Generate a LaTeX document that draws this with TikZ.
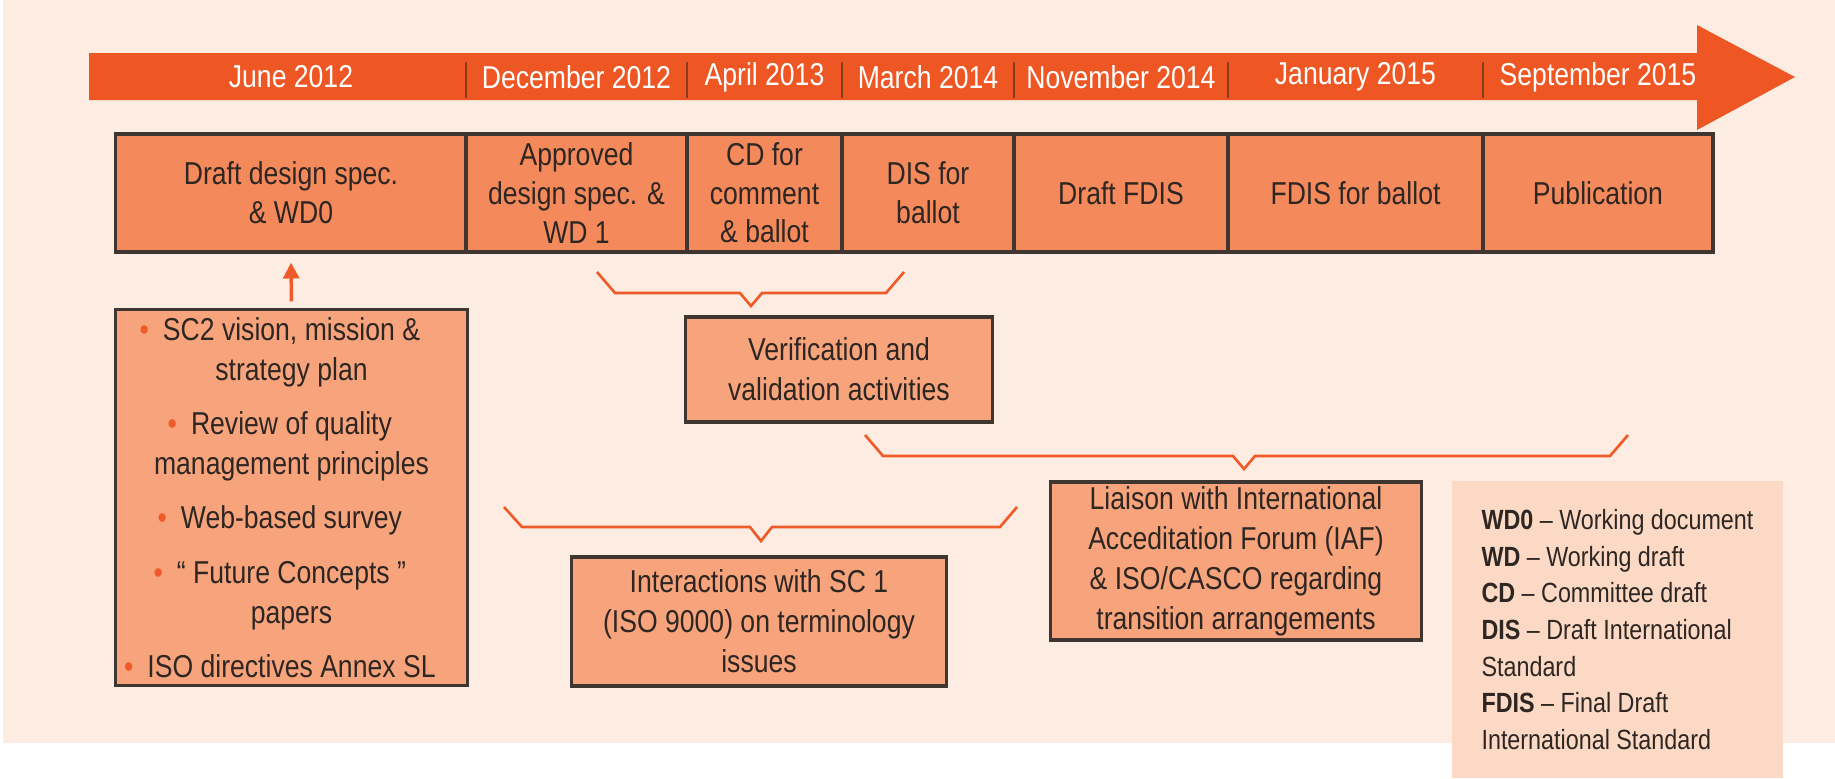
\documentclass[tikz,border=0pt]{standalone}
\usepackage{fontspec}
\setmainfont{Liberation Sans}[FakeStretch=0.84]
\usepackage{tikz}
\usetikzlibrary{positioning,arrows.meta}

\definecolor{bgpeach}{HTML}{FDECE1}
\definecolor{bandred}{HTML}{EE5724}
\definecolor{stagefill}{HTML}{F48A5B}
\definecolor{notefill}{HTML}{F7A47C}
\definecolor{legendfill}{HTML}{FCD9C5}
\definecolor{boxline}{HTML}{3F3632}
\definecolor{bracered}{HTML}{F05A28}
\definecolor{inktext}{HTML}{2E2622}
\definecolor{divline}{HTML}{8A3A1E}

\newcommand{\dotmark}{\llap{{\color{bracered}•}\hspace{4pt}}}

\tikzset{
  stage/.style={draw=boxline, line width=0.9pt, fill=stagefill, text=inktext, align=center,
    minimum height=1.18cm, inner sep=0pt, font=\fontsize{9}{11}\selectfont},
  month/.style={text=white, inner sep=0pt, font=\fontsize{9}{11}\selectfont},
  note/.style={draw=boxline, line width=0.9pt, fill=notefill, text=inktext, align=center,
    inner sep=0pt, font=\fontsize{9}{11.4}\selectfont},
  bracket/.style={draw=bracered, line width=0.75pt, line join=miter},
}

\begin{document}
\begin{tikzpicture}[x=0.01cm, y=-0.01cm]
  \useasboundingbox (0,0) rectangle (1835,778);
  \fill[bgpeach] (3,0) rectangle (1835,743);

  % time band
  \fill[bandred] (89,53) -- (1697,53) -- (1697,25) -- (1795,77) -- (1697,130) -- (1697,100) -- (89,100) -- cycle;
  \foreach \x in {466,687,842,1014,1228,1483}
    \draw[divline, line width=0.6pt] (\x,62) -- (\x,98);
  \node[month] (jun12) at (291,77) {June 2012};
  \node[month] (dec12) at (576.5,77) {December 2012};
  \node[month] (apr13) at (764.5,77) {April 2013};
  \node[month] (mar14) at (928,77) {March 2014};
  \node[month] (nov14) at (1121,77) {November 2014};
  \node[month] (jan15) at (1355.5,77) {January 2015};
  \node[month] (sep15) at (1598,77) {September 2015};

  % stages
  \node[stage, minimum width=3.50cm] (draft) at (291,193) {Draft design spec.\\ \& WD0};
  \node[stage, minimum width=2.21cm] (approved) at (576.5,193) {Approved\\ design spec. \&\\ WD 1};
  \node[stage, minimum width=1.55cm] (cd) at (764.5,193) {CD for\\ comment\\ \& ballot};
  \node[stage, minimum width=1.72cm] (dis) at (928,193) {DIS for\\ ballot};
  \node[stage, minimum width=2.14cm] (fdisdraft) at (1121,193) {Draft FDIS};
  \node[stage, minimum width=2.55cm] (fdisballot) at (1355.5,193) {FDIS for ballot};
  \node[stage, minimum width=2.30cm] (pub) at (1598,193) {Publication};

  % activities
  \node[note, minimum width=3.51cm, minimum height=3.75cm] (inputs) at (291.5,497.5)
    {\dotmark SC2 vision, mission \&\\ strategy plan\\[4pt]
     \dotmark Review of quality\\ management principles\\[4pt]
     \dotmark Web-based survey\\[4pt]
     \dotmark “ Future Concepts ”\\ papers\\[4pt]
     \dotmark ISO directives Annex SL};
  \node[note, minimum width=3.06cm, minimum height=1.05cm] (verif) at (839,369.5)
    {Verification and\\ validation activities};
  \node[note, minimum width=3.74cm, minimum height=1.29cm] (sc1) at (759,621.5)
    {Interactions with SC 1\\ (ISO 9000) on terminology\\ issues};
  \node[note, minimum width=3.70cm, minimum height=1.58cm] (iaf) at (1236,561)
    {Liaison with International\\ Acceditation Forum (IAF)\\ \& ISO/CASCO regarding\\ transition arrangements};

  \node[fill=legendfill, minimum width=3.31cm, minimum height=2.97cm, align=left, text=inktext,
    inner sep=0pt, font=\fontsize{7.9}{10.4}\selectfont] (legend) at (1617.5,629.5)
    {\textbf{WD0} – Working document\\ \textbf{WD} – Working draft\\ \textbf{CD} – Committee draft\\
     \textbf{DIS} – Draft International\\ Standard\\ \textbf{FDIS} – Final Draft\\ International Standard};

  \draw[bracered, line width=1pt, -{Triangle[length=4.5pt,width=4.5pt]}]
    ([yshift=0.07cm]inputs.north) -- ([yshift=-0.09cm]draft.south);

  % brackets
  \draw[bracket] (597,272) -- (615,293) -- (740,293) -- (751,306) -- (762,293) -- (886,293) -- (904,272);
  \draw[bracket] (865,435) -- (883,456) -- (1233,456) -- (1244,469) -- (1255,456) -- (1610,456) -- (1628,435);
  \draw[bracket] (504,507) -- (522,527) -- (750,527) -- (761,541) -- (772,527) -- (1000,527) -- (1017,507);
\end{tikzpicture}
\end{document}
